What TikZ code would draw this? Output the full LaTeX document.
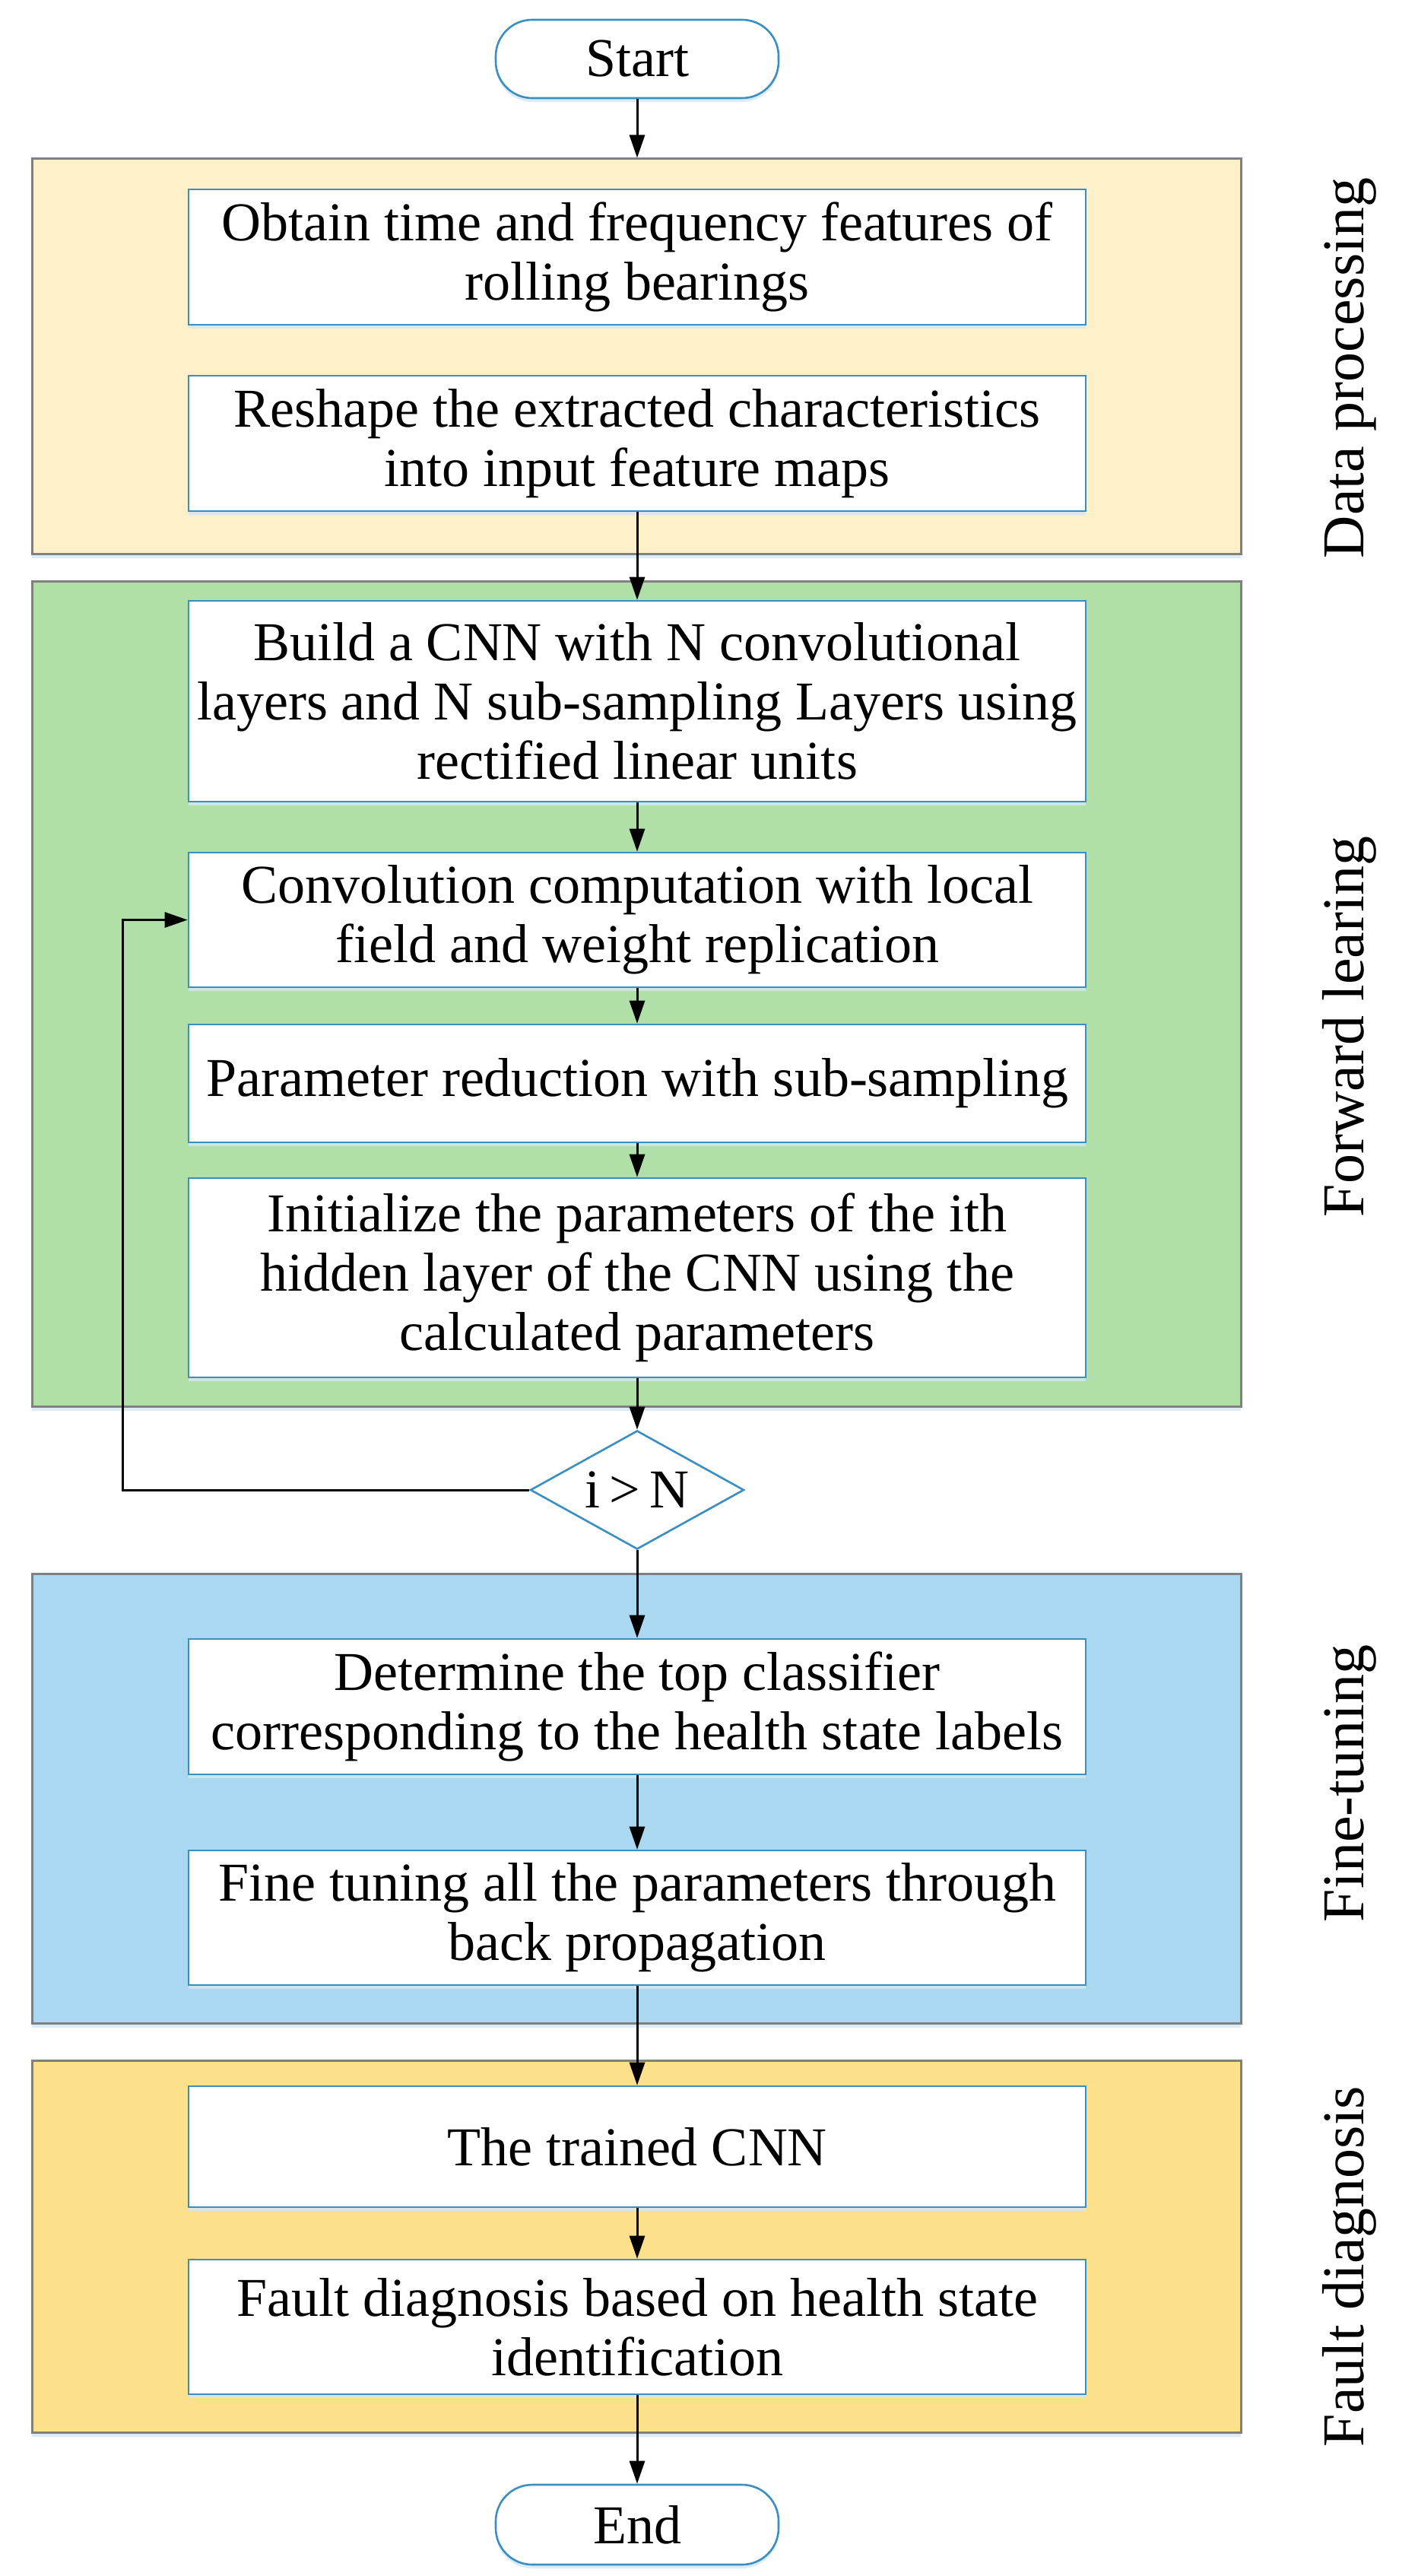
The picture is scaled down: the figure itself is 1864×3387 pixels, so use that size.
\documentclass[tikz,border=0pt]{standalone}
\usepackage{fontspec}
\setmainfont{Liberation Serif}
\usetikzlibrary{arrows.meta,shapes.geometric,shadows}
\definecolor{pyellow}{HTML}{FEF0C8}
\definecolor{pgreen}{HTML}{B0E0A8}
\definecolor{pblue}{HTML}{AAD8F0}
\definecolor{pgold}{HTML}{FDE08C}
\definecolor{panelgray}{HTML}{808080}
\definecolor{boxblue}{HTML}{3A8FC0}
\definecolor{shadowblue}{HTML}{D4E8F6}
\begin{document}
\begin{tikzpicture}[x=0.5pt,y=-0.5pt,
  font=\fontsize{36pt}{39pt}\selectfont,
  panel/.style={draw=panelgray, line width=1.5pt, minimum width=795pt, inner sep=0pt,
    drop shadow={shadow xshift=0pt, shadow yshift=-3pt, fill=shadowblue, opacity=0.8}},
  box/.style={draw=boxblue, fill=white, line width=1.3pt, minimum width=590pt, inner sep=0pt, align=center,
    drop shadow={shadow xshift=0pt, shadow yshift=-2.5pt, fill=shadowblue, opacity=0.8}},
  term/.style={draw=boxblue, fill=white, line width=1.3pt, rounded corners=24pt, minimum width=186pt, inner sep=0pt,
    drop shadow={shadow xshift=0pt, shadow yshift=-2.5pt, fill=shadowblue, opacity=0.8}},
  dec/.style={diamond, draw=boxblue, fill=white, line width=1.3pt, minimum width=140.5pt, minimum height=78pt, aspect=1.8, inner sep=0pt},
  arr/.style={-{Triangle[length=15pt,width=10pt]}, line width=1.5pt},
  lab/.style={rotate=90, anchor=base, font=\fontsize{39pt}{42pt}\selectfont}
]
\useasboundingbox[fill=white] (0,0) rectangle (1864,3387);

% panels
\node[panel, fill=pyellow, minimum height=259.5pt] (p1) at (837,468.5) {};
\node[panel, fill=pgreen,  minimum height=542.5pt] (p2) at (837,1306.5) {};
\node[panel, fill=pblue,   minimum height=295.5pt] (p3) at (837,2364.5) {};
\node[panel, fill=pgold,   minimum height=244.5pt] (p4) at (837,2953.5) {};

% side labels
\node[lab] (l1) at (1793,484)  {Data processing};
\node[lab] (l2) at (1793,1350) {Forward learing};
\node[lab] (l3) at (1793,2345) {Fine-tuning};
\node[lab] (l4) at (1793,2980) {Fault diagnosis};

% terminals
\node[term, minimum height=51.5pt] (start) at (838,77.5) {Start};
\node[term, minimum height=52.5pt] (end) at (838,3319.5) {End};

% boxes
\node[box, minimum height=89pt] (b1) at (838,338) {Obtain time and frequency features of\\ rolling bearings};
\node[box, minimum height=89pt] (b2) at (838,583) {Reshape the extracted characteristics\\ into input feature maps};
\node[box, minimum height=132pt] (b3) at (838,922) {Build a CNN with N convolutional\\ layers and N sub-sampling Layers using\\ rectified linear units};
\node[box, minimum height=88.5pt] (b4) at (838,1209.5) {Convolution computation with local\\ field and weight replication};
\node[box, minimum height=77.5pt] (b5) at (838,1424.5) {Parameter reduction with sub-sampling};
\node[box, minimum height=131pt] (b6) at (838,1680) {Initialize the parameters of the ith\\ hidden layer of the CNN using the\\ calculated parameters};
\node[dec] (dia) at (838,1959) {i\hspace{6pt}>\hspace{6pt}N};
\node[box, minimum height=89pt] (b7) at (838,2244) {Determine the top classifier\\ corresponding to the health state labels};
\node[box, minimum height=88.5pt] (b8) at (838,2521.5) {Fine tuning all the parameters through\\ back propagation};
\node[box, minimum height=79.5pt] (b9) at (838,2822.5) {The trained CNN};
\node[box, minimum height=88.5pt] (b10) at (838,3059.5) {Fault diagnosis based on health state\\ identification};

\coordinate (loop) at (161,1959);

% connectors
\draw[arr] (start.south) -- (start.south |- p1.north);
\draw[arr] (b2.south) -- (b3.north);
\draw[arr] (b3.south) -- (b4.north);
\draw[arr] (b4.south) -- (b5.north);
\draw[arr] (b5.south) -- (b6.north);
\draw[arr] (b6.south) -- (dia.north);
\draw[arr] (dia.south) -- (b7.north);
\draw[arr] (b7.south) -- (b8.north);
\draw[arr] (b8.south) -- (b9.north);
\draw[arr] (b9.south) -- (b10.north);
\draw[arr] (b10.south) -- (end.north);
\draw[arr] (dia.west) -- (loop) |- (b4.west);
\end{tikzpicture}
\end{document}
